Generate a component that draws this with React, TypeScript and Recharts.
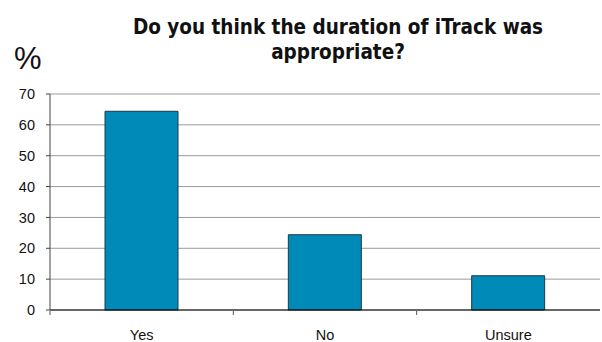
import { Bar, BarChart, CartesianGrid, XAxis, YAxis } from "recharts";

const categories = ["Yes", "No", "Unsure"];
const percentages = [64.4, 24.4, 11.1];
const yTicks = [0, 10, 20, 30, 40, 50, 60, 70];

const data = categories.map((name, i) => ({ name, value: percentages[i] }));

const W = 602;
const H = 342;
const PLOT_LEFT = 50;
const PLOT_RIGHT = 2;
const band = (W - PLOT_LEFT - PLOT_RIGHT) / categories.length;

function CategoryTick(props: any) {
  const { x, y, payload } = props;
  const left = x - band / 2;
  return (
    <g>
      <line x1={left} y1={y - 7} x2={left} y2={y - 3} stroke="#555" strokeWidth={1} />
      <text
        x={x}
        y={y + 22}
        textAnchor="middle"
        fontFamily="'Liberation Sans', Arial, sans-serif"
        fontSize={14.5}
        fill="#111"
      >
        {payload.value}
      </text>
    </g>
  );
}

export default function App() {
  return (
    <div
      style={{
        position: "absolute",
        left: 0,
        top: 0,
        width: W,
        height: H,
        background: "#fff",
      }}
    >
      <div
        style={{
          position: "absolute",
          left: 88,
          width: 500,
          top: 15,
          textAlign: "center",
          fontFamily: "'DejaVu Sans Condensed', 'DejaVu Sans', sans-serif",
          fontWeight: "bold",
          fontSize: 20.5,
          lineHeight: "25px",
          color: "#111",
        }}
      >
        Do you think the duration of iTrack was
        <br />
        appropriate?
      </div>
      <div
        style={{
          position: "absolute",
          left: 14,
          top: 41,
          fontFamily: "'Liberation Sans', Arial, sans-serif",
          fontSize: 31,
          color: "#111",
        }}
      >
        %
      </div>
      <BarChart
        width={W}
        height={H}
        data={data}
        margin={{ top: 94, right: PLOT_RIGHT, bottom: 0, left: 0 }}
        barCategoryGap="30%"
      >
        <CartesianGrid horizontal vertical={false} stroke="#9a9a9a" />
        <XAxis
          dataKey="name"
          height={32}
          axisLine={{ stroke: "#000" }}
          tickLine={false}
          tick={<CategoryTick />}
          interval={0}
        />
        <YAxis
          width={PLOT_LEFT}
          domain={[0, 70]}
          ticks={yTicks}
          interval={0}
          tickSize={4}
          tickMargin={11}
          axisLine={{ stroke: "#444" }}
          tickLine={{ stroke: "#444" }}
          tick={{
            fontFamily: "'Liberation Sans', Arial, sans-serif",
            fontSize: 14.5,
            fill: "#111",
          }}
        />
        <Bar
          dataKey="value"
          fill="#008AB8"
          stroke="#1E3A48"
          strokeWidth={1}
          isAnimationActive={false}
        />
      </BarChart>
    </div>
  );
}
